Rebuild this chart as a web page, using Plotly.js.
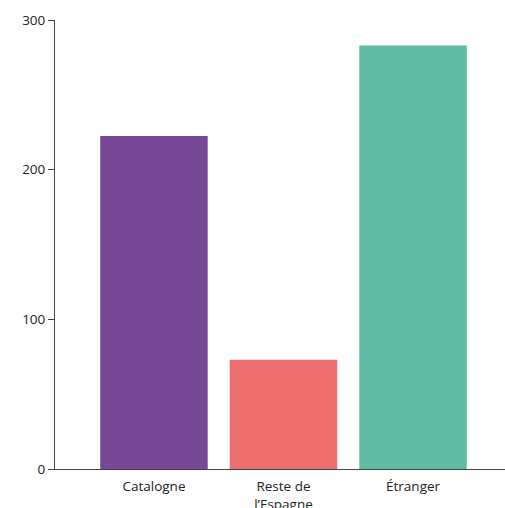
<!DOCTYPE html>
<html>
<head>
<meta charset="utf-8">
<script src="https://cdn.plot.ly/plotly-3.0.1.min.js"></script>
<style>html,body{margin:0;padding:0;background:#fff;}#chart{width:505px;height:508px;}</style>
</head>
<body>
<div id="chart"></div>
<script>
const categories = ["Catalogne", "Reste de<br>l’Espagne", "Étranger"];
const values = [222.5, 73, 283];
const colors = ["#774896", "#EC6E6E", "#60BCA2"];
const yTicks = [0, 100, 200, 300];

const trace = {
  type: "bar",
  x: [0, 1, 2],
  y: values,
  marker: { color: colors },
  width: 0.83,
  hoverinfo: "skip"
};

const layout = {
  width: 505,
  height: 508,
  margin: { l: 55, r: 0, t: 20, b: 39 },
  paper_bgcolor: "#fff",
  plot_bgcolor: "#fff",
  showlegend: false,
  font: { family: "Open Sans, sans-serif", size: 13.5, color: "#222" },
  xaxis: {
    range: [-0.764, 2.71],
    tickmode: "array",
    tickvals: [0, 1, 2],
    ticktext: categories,
    showline: true,
    linecolor: "#444",
    linewidth: 1,
    ticks: "outside",
    ticklen: 5,
    tickcolor: "rgba(0,0,0,0)",
    showgrid: false,
    zeroline: false,
    fixedrange: true
  },
  yaxis: {
    range: [0, 300],
    tickvals: yTicks,
    showline: true,
    linecolor: "#444",
    linewidth: 1,
    ticks: "outside",
    ticklen: 6,
    tickcolor: "#444",
    showgrid: false,
    zeroline: false,
    fixedrange: true
  }
};

Plotly.newPlot("chart", [trace], layout, { displayModeBar: false, staticPlot: true });
</script>
</body>
</html>
